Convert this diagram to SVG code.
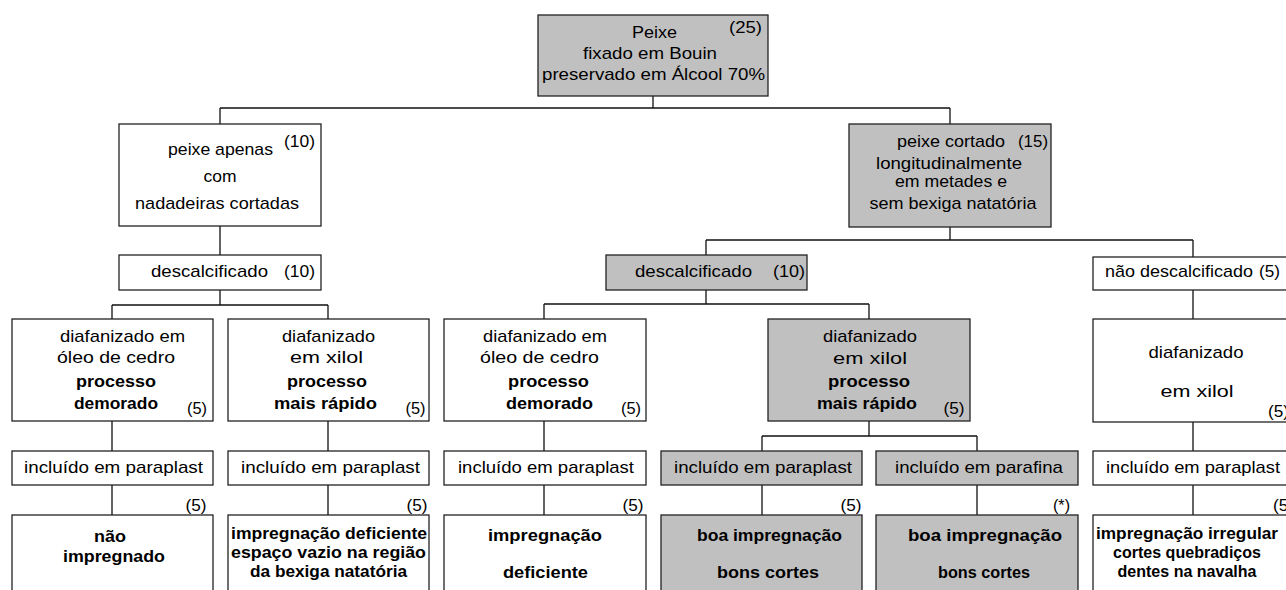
<svg xmlns="http://www.w3.org/2000/svg" width="1286" height="590" viewBox="0 0 1286 590">
<style>
.bx{fill:#fff;stroke:#222;stroke-width:1.3}
.gy{fill:#c0c0c0;stroke:#222;stroke-width:1.3}
.ln{fill:none;stroke:#111;stroke-width:1.3}
text{font-family:"Liberation Sans",Arial,sans-serif;font-size:17px;fill:#000}
.c{text-anchor:middle}
.b{font-weight:bold}
</style>
<rect width="1286" height="590" fill="#fff"/>
<g id="connectors">
<path class="ln" d="M653,96V108M220,108H950M220,108V124M950,108V124"/>
<path class="ln" d="M220,226V255M220,290V305M112,305H328M112,305V319M328,305V319"/>
<path class="ln" d="M112,421V451M328,421V451M112,485V515M328,485V515"/>
<path class="ln" d="M950,227V240M706,240H1193M706,240V255M1193,240V257"/>
<path class="ln" d="M706,290V304M544,304H869M544,304V319M869,304V319"/>
<path class="ln" d="M544,421V451M544,485V515M869,421V436M762,436H977M762,436V451M977,436V451M762,485V515M977,485V515"/>
<path class="ln" d="M1193,290V319M1193,422V451M1193,485V515"/>
</g>
<g id="n-peixe">
<rect class="gy" x="538" y="15" width="230" height="81"/>
<text class="c" x="654.5" y="38" textLength="45" lengthAdjust="spacingAndGlyphs">Peixe</text>
<text class="c" x="745.5" y="33" textLength="33" lengthAdjust="spacingAndGlyphs">(25)</text>
<text class="c" x="650" y="59" textLength="134" lengthAdjust="spacingAndGlyphs">fixado em Bouin</text>
<text class="c" x="653.5" y="80" textLength="223" lengthAdjust="spacingAndGlyphs">preservado em  Álcool 70%</text>
</g>
<g id="n-apenas">
<rect class="bx" x="119" y="124" width="202" height="102"/>
<text class="c" x="220.5" y="155" textLength="105" lengthAdjust="spacingAndGlyphs">peixe apenas</text>
<text class="c" x="299.5" y="147" textLength="31" lengthAdjust="spacingAndGlyphs">(10)</text>
<text class="c" x="220" y="182" textLength="33" lengthAdjust="spacingAndGlyphs">com</text>
<text class="c" x="217" y="209" textLength="164" lengthAdjust="spacingAndGlyphs">nadadeiras cortadas</text>
</g>
<g id="n-desc-l">
<rect class="bx" x="119" y="255" width="202" height="35"/>
<text class="c" x="209.5" y="277" textLength="117" lengthAdjust="spacingAndGlyphs">descalcificado</text>
<text class="c" x="299.5" y="277" textLength="31" lengthAdjust="spacingAndGlyphs">(10)</text>
</g>
<g id="n-l1">
<rect class="bx" x="12" y="319" width="201" height="102"/>
<text class="c" x="122.5" y="342" textLength="125" lengthAdjust="spacingAndGlyphs">diafanizado em</text>
<text class="c" x="116" y="363" textLength="118" lengthAdjust="spacingAndGlyphs">óleo de cedro</text>
<text class="c b" x="116" y="387" textLength="80" lengthAdjust="spacingAndGlyphs">processo</text>
<text class="c b" x="116" y="409" textLength="84" lengthAdjust="spacingAndGlyphs">demorado</text>
<text class="c" x="197" y="414" textLength="20" lengthAdjust="spacingAndGlyphs">(5)</text>
</g>
<g id="n-l2">
<rect class="bx" x="228" y="319" width="201" height="102"/>
<text class="c" x="328.5" y="342" textLength="93" lengthAdjust="spacingAndGlyphs">diafanizado</text>
<text class="c" x="326.5" y="363" textLength="73" lengthAdjust="spacingAndGlyphs">em xilol</text>
<text class="c b" x="327" y="387" textLength="80" lengthAdjust="spacingAndGlyphs">processo</text>
<text class="c b" x="325.5" y="409" textLength="103" lengthAdjust="spacingAndGlyphs">mais rápido</text>
<text class="c" x="415.5" y="414" textLength="20" lengthAdjust="spacingAndGlyphs">(5)</text>
</g>
<g id="n-l1-inc">
<rect class="bx" x="12" y="451" width="201" height="34"/>
<text class="c" x="113.5" y="473" textLength="179" lengthAdjust="spacingAndGlyphs">incluído em paraplast</text>
</g>
<g id="n-l2-inc">
<rect class="bx" x="228" y="451" width="201" height="34"/>
<text class="c" x="330.5" y="473" textLength="179" lengthAdjust="spacingAndGlyphs">incluído em paraplast</text>
</g>
<g id="n-l1-res">
<text class="c" x="196" y="511" textLength="21" lengthAdjust="spacingAndGlyphs">(5)</text>
<rect class="bx" x="12" y="515" width="201" height="90"/>
<text class="c b" x="110" y="542" textLength="32" lengthAdjust="spacingAndGlyphs">não</text>
<text class="c b" x="114" y="562" textLength="102" lengthAdjust="spacingAndGlyphs">impregnado</text>
</g>
<g id="n-l2-res">
<text class="c" x="417" y="511" textLength="21" lengthAdjust="spacingAndGlyphs">(5)</text>
<rect class="bx" x="228" y="515" width="201" height="90"/>
<text class="c b" x="329" y="539" textLength="196" lengthAdjust="spacingAndGlyphs">impregnação deficiente</text>
<text class="c b" x="328.5" y="558" textLength="195" lengthAdjust="spacingAndGlyphs">espaço vazio na região</text>
<text class="c b" x="328.5" y="577" textLength="157" lengthAdjust="spacingAndGlyphs">da bexiga natatória</text>
</g>
<g id="n-cortado">
<rect class="gy" x="849" y="124" width="202" height="103"/>
<text class="c" x="951" y="147" textLength="108" lengthAdjust="spacingAndGlyphs">peixe cortado</text>
<text class="c" x="1033" y="147" textLength="30" lengthAdjust="spacingAndGlyphs">(15)</text>
<text class="c" x="949" y="169" textLength="146" lengthAdjust="spacingAndGlyphs">longitudinalmente</text>
<text class="c" x="951" y="187" textLength="112" lengthAdjust="spacingAndGlyphs">em metades e</text>
<text class="c" x="953" y="209" textLength="167" lengthAdjust="spacingAndGlyphs">sem bexiga natatória</text>
</g>
<g id="n-desc-m">
<rect class="gy" x="606" y="255" width="201" height="35"/>
<text class="c" x="693.5" y="277" textLength="117" lengthAdjust="spacingAndGlyphs">descalcificado</text>
<text class="c" x="789" y="277" textLength="32" lengthAdjust="spacingAndGlyphs">(10)</text>
</g>
<g id="n-m1">
<rect class="bx" x="444" y="319" width="202" height="102"/>
<text class="c" x="545" y="342" textLength="124" lengthAdjust="spacingAndGlyphs">diafanizado em</text>
<text class="c" x="539.5" y="363" textLength="119" lengthAdjust="spacingAndGlyphs">óleo de cedro</text>
<text class="c b" x="548.5" y="387" textLength="81" lengthAdjust="spacingAndGlyphs">processo</text>
<text class="c b" x="549.5" y="409" textLength="87" lengthAdjust="spacingAndGlyphs">demorado</text>
<text class="c" x="631" y="414" textLength="20" lengthAdjust="spacingAndGlyphs">(5)</text>
</g>
<g id="n-m2">
<rect class="gy" x="768" y="319" width="202" height="102"/>
<text class="c" x="870" y="342" textLength="94" lengthAdjust="spacingAndGlyphs">diafanizado</text>
<text class="c" x="870" y="364" textLength="74" lengthAdjust="spacingAndGlyphs">em xilol</text>
<text class="c b" x="869" y="387" textLength="82" lengthAdjust="spacingAndGlyphs">processo</text>
<text class="c b" x="867" y="409" textLength="100" lengthAdjust="spacingAndGlyphs">mais rápido</text>
<text class="c" x="954" y="414" textLength="21" lengthAdjust="spacingAndGlyphs">(5)</text>
</g>
<g id="n-m1-inc">
<rect class="bx" x="444" y="451" width="202" height="34"/>
<text class="c" x="546" y="473" textLength="176" lengthAdjust="spacingAndGlyphs">incluído em paraplast</text>
</g>
<g id="n-m1-res">
<text class="c" x="633" y="511" textLength="21" lengthAdjust="spacingAndGlyphs">(5)</text>
<rect class="bx" x="444" y="515" width="202" height="90"/>
<text class="c b" x="545" y="541" textLength="114" lengthAdjust="spacingAndGlyphs">impregnação</text>
<text class="c b" x="545.5" y="578" textLength="85" lengthAdjust="spacingAndGlyphs">deficiente</text>
</g>
<g id="n-m2a-inc">
<rect class="gy" x="661" y="451" width="201" height="34"/>
<text class="c" x="763" y="473" textLength="178" lengthAdjust="spacingAndGlyphs">incluído em paraplast</text>
</g>
<g id="n-m2a-res">
<text class="c" x="851" y="511" textLength="21" lengthAdjust="spacingAndGlyphs">(5)</text>
<rect class="gy" x="661" y="515" width="201" height="90"/>
<text class="c b" x="769.5" y="541" textLength="145" lengthAdjust="spacingAndGlyphs">boa impregnação</text>
<text class="c b" x="768" y="578" textLength="102" lengthAdjust="spacingAndGlyphs">bons cortes</text>
</g>
<g id="n-m2b-inc">
<rect class="gy" x="876" y="451" width="202" height="34"/>
<text class="c" x="979" y="473" textLength="168" lengthAdjust="spacingAndGlyphs">incluído em parafina</text>
</g>
<g id="n-m2b-res">
<text class="c" x="1061.5" y="511" textLength="17" lengthAdjust="spacingAndGlyphs">(*)</text>
<rect class="gy" x="876" y="515" width="202" height="90"/>
<text class="c b" x="985" y="541" textLength="154" lengthAdjust="spacingAndGlyphs">boa impregnação</text>
<text class="c b" x="984" y="578" textLength="92" lengthAdjust="spacingAndGlyphs">bons cortes</text>
</g>
<g id="n-naodesc">
<rect class="bx" x="1093" y="257" width="200" height="33"/>
<text x="1105" y="277" textLength="148" lengthAdjust="spacingAndGlyphs">não descalcificado</text>
<text x="1259" y="277" textLength="21" lengthAdjust="spacingAndGlyphs">(5)</text>
</g>
<g id="n-r1">
<rect class="bx" x="1093" y="319" width="200" height="103"/>
<text class="c" x="1196" y="358" textLength="95" lengthAdjust="spacingAndGlyphs">diafanizado</text>
<text class="c" x="1197" y="397" textLength="73" lengthAdjust="spacingAndGlyphs">em xilol</text>
<text x="1268" y="417" textLength="21" lengthAdjust="spacingAndGlyphs">(5)</text>
</g>
<g id="n-r1-inc">
<rect class="bx" x="1093" y="451" width="200" height="34"/>
<text x="1106" y="473" textLength="174" lengthAdjust="spacingAndGlyphs">incluído em paraplast</text>
</g>
<g id="n-r1-res">
<text x="1273" y="511" textLength="21" lengthAdjust="spacingAndGlyphs">(5)</text>
<rect class="bx" x="1093" y="515" width="200" height="90"/>
<text class="c b" x="1187" y="539" textLength="182" lengthAdjust="spacingAndGlyphs">impregnação irregular</text>
<text class="c b" x="1187" y="558" textLength="148" lengthAdjust="spacingAndGlyphs">cortes quebradiços</text>
<text class="c b" x="1187" y="577" textLength="139" lengthAdjust="spacingAndGlyphs">dentes na navalha</text>
</g>
</svg>
